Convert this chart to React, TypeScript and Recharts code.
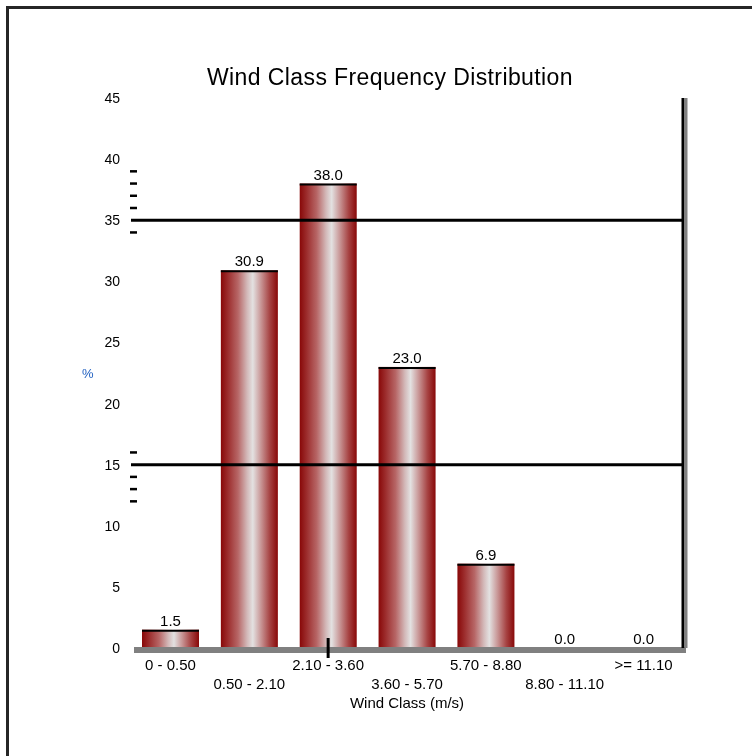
import React from 'react';
import { BarChart, Bar, XAxis, YAxis, ReferenceLine, LabelList } from 'recharts';

const categories = ['0 - 0.50', '0.50 - 2.10', '2.10 - 3.60', '3.60 - 5.70', '5.70 - 8.80', '8.80 - 11.10', '>= 11.10'];
const frequencies = [1.5, 30.9, 38.0, 23.0, 6.9, 0.0, 0.0];
const yTicks = [0, 5, 10, 15, 20, 25, 30, 35, 40, 45];
const gridValues = [15, 35];
const minorTicks = [12, 13, 14, 16, 34, 36, 37, 38, 39];

const data = categories.map((c, i) => ({ name: c, value: frequencies[i] }));
const allYTicks = [...yTicks, ...minorTicks].sort((a, b) => a - b);

const FONT = '"Liberation Sans", Arial, sans-serif';
const Y_TICK_SIZE = 6;
const Y_TICK_MARGIN = 5;

const XTick = (props: any) => {
  const { x, y, payload, index } = props;
  const second = index % 2 === 1;
  return (
    <g>
      <text x={x} y={y + (second ? 33 : 14)} textAnchor="middle" fontSize={15} fill="#000" fontFamily={FONT}>
        {payload.value}
      </text>
      {index === 2 && <line x1={x} x2={x} y1={y - 18} y2={y + 2} stroke="#000" strokeWidth={3} />}
    </g>
  );
};

const YTick = (props: any) => {
  const { x, y, payload } = props;
  const v = payload.value;
  if (yTicks.includes(v)) {
    return (
      <text x={x} y={y} dy="0.355em" textAnchor="end" fontSize={14} fill="#000" fontFamily={FONT}>
        {v}
      </text>
    );
  }
  const left = x + Y_TICK_SIZE + Y_TICK_MARGIN;
  return <line x1={left - 1} x2={left + 6} y1={y} y2={y} stroke="#000" strokeWidth={2.5} />;
};

const BarShape = (props: any) => {
  const { x, y, width, height } = props;
  if (!height || height <= 0) return <g />;
  return (
    <g>
      <rect x={x} y={y} width={width} height={height} fill="url(#cylGrad)" />
      <line x1={x} x2={x + width} y1={y + 1} y2={y + 1} stroke="#000" strokeWidth={2} />
    </g>
  );
};

export default function App() {
  return (
    <div style={{ position: 'relative', width: 744, height: 740, overflow: 'hidden', fontFamily: FONT }}>
      <div
        style={{
          position: 'fixed',
          left: 6,
          top: 6,
          width: 900,
          height: 900,
          border: '3px solid #262626',
          boxSizing: 'border-box',
        }}
      />
      <div
        style={{
          position: 'absolute',
          left: 0,
          top: 58,
          width: 764,
          textAlign: 'center',
          fontSize: 23,
          lineHeight: '23px',
          color: '#000',
          letterSpacing: 0.4,
          fontFamily: FONT,
        }}
      >
        Wind Class Frequency Distribution
      </div>
      <div style={{ position: 'absolute', left: 0, top: 0 }}>
        <BarChart
          width={736}
          height={740}
          data={data}
          margin={{ top: 90, right: 57, bottom: 40, left: 73 }}
          barSize={57}
        >
          <defs>
            <linearGradient id="cylGrad" x1="0" y1="0" x2="1" y2="0">
              <stop offset="0%" stopColor="#880808" />
              <stop offset="12%" stopColor="#9c2c2c" />
              <stop offset="30%" stopColor="#b76666" />
              <stop offset="46%" stopColor="#d3b8b8" />
              <stop offset="56%" stopColor="#e3e1e1" />
              <stop offset="70%" stopColor="#c99898" />
              <stop offset="86%" stopColor="#a64242" />
              <stop offset="100%" stopColor="#880808" />
            </linearGradient>
          </defs>
          <XAxis
            dataKey="name"
            interval={0}
            height={60}
            tickSize={6}
            tickMargin={2}
            tickLine={false}
            tick={<XTick />}
            axisLine={{ stroke: '#808080', strokeWidth: 6, transform: 'translate(3,2)' } as any}
            label={{ value: 'Wind Class (m/s)', position: 'insideBottom', offset: 0, fontSize: 15, fill: '#000', fontFamily: FONT }}
          />
          <YAxis
            yAxisId="main"
            domain={[0, 45]}
            ticks={allYTicks}
            interval={0}
            width={50}
            axisLine={false}
            tickLine={false}
            tickSize={Y_TICK_SIZE}
            tickMargin={Y_TICK_MARGIN}
            tick={<YTick />}
            label={{ value: '%', position: 'insideLeft', offset: 1, fontSize: 13, fill: '#1f5fc0', fontFamily: FONT }}
          />
          <YAxis
            yAxisId="right"
            orientation="right"
            domain={[0, 45]}
            width={3}
            tick={false}
            tickLine={false}
            axisLine={{ stroke: '#000', strokeWidth: 3 }}
          />
          <YAxis
            yAxisId="rightShadow"
            orientation="right"
            domain={[0, 45]}
            width={1}
            tick={false}
            tickLine={false}
            axisLine={{ stroke: '#808080', strokeWidth: 3 }}
          />
          {gridValues.map((v) => (
            <ReferenceLine key={v} yAxisId="main" y={v} stroke="#000" strokeWidth={3} ifOverflow="extendDomain" />
          ))}
          <Bar yAxisId="main" dataKey="value" isAnimationActive={false} shape={<BarShape />}>
            <LabelList
              dataKey="value"
              position="top"
              offset={4}
              formatter={(v: any) => Number(v).toFixed(1)}
              style={{ fontSize: 15, fill: '#000', fontFamily: FONT }}
            />
          </Bar>
        </BarChart>
      </div>
    </div>
  );
}
